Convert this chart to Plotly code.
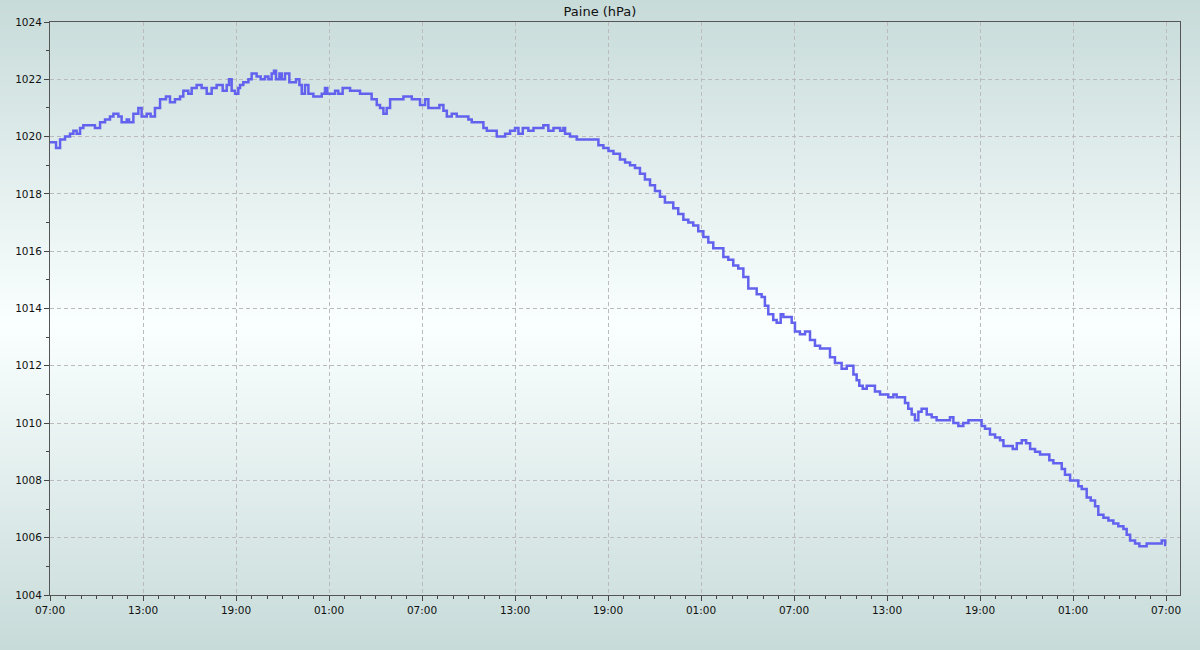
import base64, struct, zlib
import pandas as pd
import plotly.graph_objects as go

# ---- data (hours since start, pressure in hPa) ----
hours = [0.0, 0.39, 0.65, 0.97, 1.29, 1.51, 1.72, 1.94, 2.15, 2.58, 2.9, 3.23, 3.55, 3.87, 4.09, 4.41,
         4.62, 4.95, 5.1, 5.38, 5.7, 5.91, 6.24, 6.49, 6.77, 7.1, 7.48, 7.74, 8.06, 8.39, 8.6, 8.92,
         9.14, 9.46, 9.78, 10.11, 10.43, 10.75, 11.01, 11.14, 11.4, 11.55, 11.72, 11.94, 12.15,
         12.26, 12.47, 12.8, 13.01, 13.33, 13.59, 13.87, 14.09, 14.3, 14.45, 14.58, 14.8, 14.95,
         15.16, 15.44, 15.7, 15.87, 16.09, 16.24, 16.45, 16.67, 16.99, 17.25, 17.53, 17.74, 17.89,
         18.17, 18.39, 18.6, 18.88, 19.14, 19.36, 19.68, 20.0, 20.43, 20.75, 21.08, 21.29, 21.51,
         21.72, 21.94, 22.15, 22.47, 22.8, 23.06, 23.34, 23.66, 23.87, 24.2, 24.41,
         24.52, 24.84, 25.12, 25.38, 25.6, 25.92, 26.24, 26.67, 26.99, 27.21, 27.53, 27.75, 27.96,
         28.18, 28.5, 28.82, 29.14, 29.36, 29.68, 30.0, 30.22, 30.5, 30.86, 31.19, 31.51, 31.83,
         32.15, 32.48, 32.91, 33.12, 33.23, 33.55, 33.98, 34.3, 34.63, 35.06, 35.38, 35.7, 36.03, 36.35,
         36.77, 37.1, 37.42, 37.74, 38.06, 38.38, 38.71, 39.03, 39.35, 39.67, 39.99, 40.21, 40.53,
         40.86, 41.18, 41.5, 41.82, 42.15, 42.47, 42.79, 43.11, 43.44, 43.76, 44.08, 44.4, 44.73,
         45.05, 45.33, 45.59, 45.91, 46.12, 46.34, 46.66, 46.88, 47.14, 47.31, 47.63, 47.85, 48.06,
         48.38, 48.71,
         49.03, 49.35, 49.68, 50.0, 50.32, 50.64, 50.86, 51.07, 51.4, 51.61, 51.83, 52.04, 52.21,
         52.43, 52.69, 53.01, 53.22, 53.55, 53.87, 54.08, 54.41, 54.62, 54.94, 55.16, 55.37, 55.59,
         55.8, 56.02, 56.23, 56.56, 56.88, 57.2, 57.52, 57.85, 58.06, 58.28, 58.6, 58.92, 59.25,
         59.57, 59.89, 60.1, 60.32, 60.64, 60.97,
         61.29, 61.51, 61.83, 62.11, 62.37, 62.69, 62.97, 63.23, 63.55, 63.87, 64.19, 64.47, 64.73,
         65.05, 65.27, 65.48, 65.81, 66.06, 66.34, 66.56, 66.88, 67.14, 67.42, 67.63, 67.96, 68.28,
         68.6, 68.92, 69.25, 69.46, 69.68, 70.0, 70.28, 70.49, 70.75, 70.97, 71.18, 71.51, 71.72, 71.94]

pressure = [1019.8, 1019.6, 1019.9, 1020.0, 1020.1, 1020.2, 1020.1, 1020.3, 1020.4, 1020.4, 1020.3,
            1020.5, 1020.6, 1020.7, 1020.8, 1020.7, 1020.5, 1020.6, 1020.5, 1020.8, 1021.0, 1020.7,
            1020.8, 1020.7, 1021.0, 1021.3, 1021.4, 1021.2, 1021.3, 1021.4, 1021.6, 1021.5, 1021.7,
            1021.8, 1021.7, 1021.5, 1021.7, 1021.8, 1021.8, 1021.6, 1021.8, 1022.0, 1021.6, 1021.5,
            1021.7,
            1021.8, 1021.9, 1022.0, 1022.2, 1022.1, 1022.0, 1022.1, 1022.0, 1022.2, 1022.3, 1022.0,
            1022.2, 1022.0, 1022.2, 1021.9, 1021.9, 1022.0, 1021.8, 1021.5, 1021.8, 1021.5, 1021.4,
            1021.4, 1021.5, 1021.7, 1021.5, 1021.5, 1021.6, 1021.5, 1021.7, 1021.7, 1021.6, 1021.6,
            1021.5, 1021.5, 1021.3, 1021.1, 1021.0, 1020.8, 1021.0, 1021.3, 1021.3, 1021.3, 1021.4,
            1021.4, 1021.3, 1021.3, 1021.1, 1021.3, 1021.0,
            1021.0, 1021.0, 1021.1, 1020.9, 1020.7, 1020.8, 1020.7, 1020.7, 1020.6, 1020.5, 1020.5,
            1020.5, 1020.3, 1020.2, 1020.2, 1020.0, 1020.0, 1020.1, 1020.2, 1020.3, 1020.1, 1020.3,
            1020.2, 1020.3, 1020.3, 1020.4, 1020.2, 1020.3, 1020.2, 1020.3, 1020.1, 1020.0, 1019.9,
            1019.9, 1019.9, 1019.9, 1019.7, 1019.6, 1019.5, 1019.4,
            1019.2, 1019.1, 1019.0, 1018.9, 1018.7, 1018.5, 1018.3, 1018.1, 1017.9, 1017.7, 1017.7,
            1017.5, 1017.3, 1017.1, 1017.0, 1016.9, 1016.7, 1016.5, 1016.3, 1016.1, 1016.1, 1015.8,
            1015.7, 1015.5, 1015.4, 1015.1, 1014.7, 1014.7, 1014.5, 1014.4, 1014.1, 1013.8, 1013.6,
            1013.5, 1013.8, 1013.7, 1013.7, 1013.5, 1013.2, 1013.1, 1013.2,
            1012.9, 1012.7, 1012.6, 1012.6, 1012.3, 1012.1, 1012.1, 1011.9, 1012.0, 1012.0, 1011.7,
            1011.5, 1011.3, 1011.2, 1011.3, 1011.3, 1011.1, 1011.0, 1011.0, 1010.9, 1011.0, 1010.9,
            1010.9, 1010.7, 1010.5, 1010.3, 1010.1, 1010.4, 1010.5, 1010.3, 1010.2, 1010.1, 1010.1,
            1010.1, 1010.2, 1010.0, 1009.9, 1010.0, 1010.1, 1010.1, 1010.1, 1009.9, 1009.8, 1009.6,
            1009.5,
            1009.4, 1009.2, 1009.2, 1009.1, 1009.3, 1009.4, 1009.3, 1009.1, 1009.0, 1008.9, 1008.9,
            1008.7, 1008.6, 1008.6, 1008.4, 1008.2, 1008.0, 1008.0, 1007.8, 1007.7, 1007.4, 1007.3,
            1007.1, 1006.8, 1006.7, 1006.6, 1006.5, 1006.4, 1006.3, 1006.1, 1005.9, 1005.8, 1005.7,
            1005.7, 1005.8, 1005.8, 1005.8, 1005.8, 1005.9, 1005.7]

title_text = "Paine (hPa)"
start = pd.Timestamp("2024-01-01 07:00")
x_span_hours = 72.9
y_range = [1004, 1024]

times = start + pd.to_timedelta(hours, unit="h")


# ---- vertical gradient background as a PNG ----
def gradient_png(h, edge, center):
    rows = []
    mid = (h - 1) / 2.0
    for i in range(h):
        f = 1 - abs(i - mid) / mid
        c = bytes(int(round(edge[k] + (center[k] - edge[k]) * f)) for k in range(3))
        rows.append(b"\x00" + c + c)
    raw = b"".join(rows)

    def chunk(tag, data):
        return struct.pack(">I", len(data)) + tag + data + struct.pack(">I", zlib.crc32(tag + data) & 0xffffffff)

    png = b"\x89PNG\r\n\x1a\n"
    png += chunk(b"IHDR", struct.pack(">IIBBBBB", 2, h, 8, 2, 0, 0, 0))
    png += chunk(b"IDAT", zlib.compress(raw, 9))
    png += chunk(b"IEND", b"")
    return "data:image/png;base64," + base64.b64encode(png).decode()


W, H = 1200, 650
ml, mr, mt, mb = 50, 20, 22, 55
pw, ph = W - ml - mr, H - mt - mb

fig = go.Figure()
fig.add_trace(go.Scatter(
    x=times, y=pressure, mode="lines",
    line=dict(color="#6262ee", width=2.5, shape="hv"),
    showlegend=False,
))

fig.add_layout_image(dict(
    source=gradient_png(H, (199, 219, 217), (250, 255, 255)),
    xref="paper", yref="paper",
    x=-ml / pw, y=1 + mt / ph, sizex=W / pw, sizey=H / ph,
    xanchor="left", yanchor="top", sizing="stretch", layer="below",
))

font = dict(family="DejaVu Sans, sans-serif", size=10.5, color="#111111")

fig.update_layout(
    width=W, height=H,
    margin=dict(l=ml, r=mr, t=mt, b=mb),
    paper_bgcolor="rgba(0,0,0,0)", plot_bgcolor="rgba(0,0,0,0)",
    font=font,
    title=dict(text=title_text, x=0.5, xref="container", xanchor="center",
               y=1 - 11 / H, yref="container", yanchor="middle",
               font=dict(family="DejaVu Sans, sans-serif", size=13, color="#111111")),
    xaxis=dict(
        type="date",
        range=[start, start + pd.Timedelta(hours=x_span_hours)],
        tick0=start, dtick=6 * 3600 * 1000, tickformat="%H:%M",
        ticks="outside", ticklen=5, tickcolor="#444444",
        showline=True, linecolor="#555555", linewidth=1, mirror=True,
        showgrid=True, gridcolor="#bbbbbb", griddash="4px,3px", gridwidth=1,
        zeroline=False,
        minor=dict(dtick=3600 * 1000, ticks="outside", ticklen=3, tickcolor="#444444", showgrid=False),
        tickfont=font,
    ),
    yaxis=dict(
        range=y_range, dtick=2, tick0=1004,
        ticks="outside", ticklen=5, tickcolor="#444444",
        showline=True, linecolor="#555555", linewidth=1, mirror=True,
        showgrid=True, gridcolor="#bbbbbb", griddash="4px,3px", gridwidth=1,
        zeroline=False,
        minor=dict(dtick=1, ticks="outside", ticklen=3, tickcolor="#444444", showgrid=False),
        tickfont=font,
    ),
)

fig.write_html("out.html", config={"displayModeBar": False},
               post_script="document.body.style.margin='0';document.body.style.overflow='hidden';")
